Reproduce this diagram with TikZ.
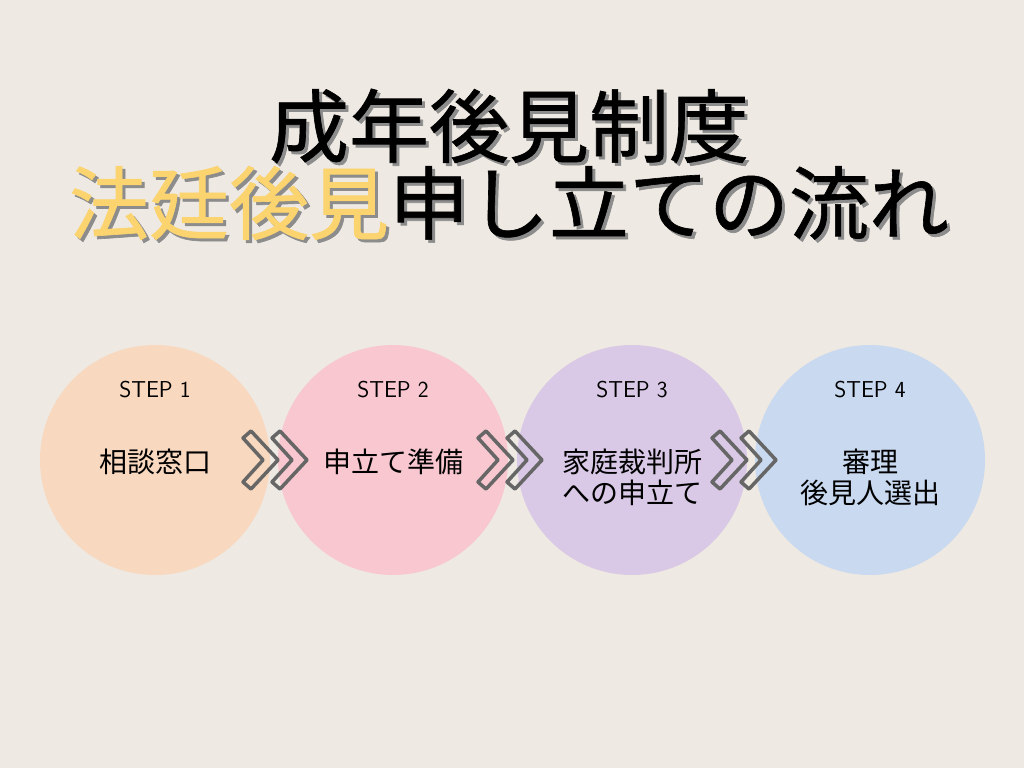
\documentclass[tikz,border=0pt]{standalone}
\usepackage{fontspec}
\setmainfont{Noto Sans CJK JP}
\newfontfamily\jpb{Noto Sans CJK JP}[FakeBold=0.8]
\begin{document}
\begin{tikzpicture}[x=1pt,y=-1pt,
  circ/.style={circle,minimum size=230pt,inner sep=0pt},
  steplbl/.style={font=\fontsize{23}{24}\selectfont\sffamily},
  lbl/.style={font=\fontsize{28}{31}\selectfont,align=center},
  chev/.style={draw=black!60,line width=3.5pt,line join=round},
  ttl/.style={font=\fontsize{80}{88}\selectfont\jpb}]
\definecolor{bg}{HTML}{EEE9E2}
\definecolor{c1}{HTML}{F8D8BF}
\definecolor{c2}{HTML}{F8C7D0}
\definecolor{c3}{HTML}{D9C8E6}
\definecolor{c4}{HTML}{C8D9F0}
\definecolor{ylw}{HTML}{FBD36F}
\fill[bg] (0,0) rectangle (1024,768);
\useasboundingbox (0,0) rectangle (1024,768);
\node[ttl,text=black!45] at (512,129) {成年後見制度};
\node[ttl,text=black] (t1) at (509,126) {成年後見制度};
\node[ttl,text=black!45] at (512,206) {法廷後見申し立ての流れ};
\node[ttl] (t2) at (509,203) {{\color{ylw}法廷後見}申し立ての流れ};
\node[circ,fill=c1] (s1) at (155,460) {};
\node[circ,fill=c2] (s2) at (393,460) {};
\node[circ,fill=c3] (s3) at (632,460) {};
\node[circ,fill=c4] (s4) at (870,460) {};
\foreach \n/\x in {1/155,2/393,3/632,4/870}{
  \node[steplbl] (st\n) at (\x,390) {STEP \n};
}
\node[lbl] (l1) at (155,462) {相談窓口};
\node[lbl] (l2) at (393,462) {申立て準備};
\node[lbl] (l3) at (632,477) {家庭裁判所\\への申立て};
\node[lbl] (l4) at (870,477) {審理\\後見人選出};
\foreach \x in {243,272,478,507,712,741}{
  \draw[chev] (\x,438) -- (\x+8,431) -- (\x+35,460) -- (\x+8,489) -- (\x,482) -- (\x+20,460) -- cycle;
}
\end{tikzpicture}
\end{document}
